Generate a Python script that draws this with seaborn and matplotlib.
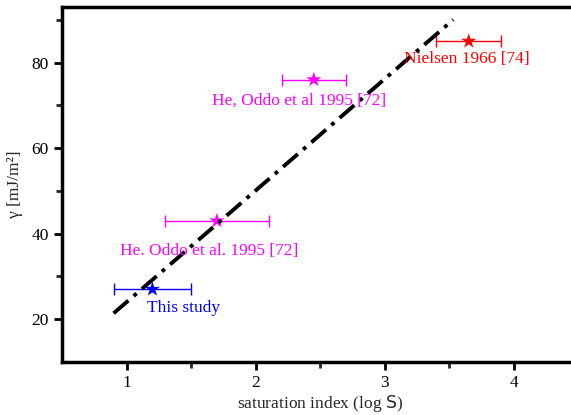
import matplotlib
matplotlib.use("Agg")
import matplotlib.pyplot as plt
import numpy as np
import pandas as pd
import seaborn as sns

# Measured interfacial energies vs. saturation index
labels = ["This study", "He. Oddo et al. 1995 [72]", "He, Oddo et al 1995 [72]", "Nielsen 1966 [74]"]
log_s = [1.2, 1.7, 2.45, 3.65]
gamma = [27, 43, 76, 85]
x_lo = [0.9, 1.3, 2.2, 3.4]
x_hi = [1.5, 2.1, 2.7, 3.9]
colors = ["#0000ff", "#ff00ff", "#ff00ff", "#ff0000"]

# Linear trend line endpoints (log S) and its coefficients
fit_x = [0.9, 3.53]
fit_slope = 26.1
fit_intercept = -2.1

x_ticks = [1, 2, 3, 4]
y_ticks = [20, 40, 60, 80]

sns.set_style("ticks")
plt.rcParams["font.family"] = ["Liberation Serif", "DejaVu Serif"]
plt.rcParams["mathtext.fontset"] = "dejavusans"

FS = 12.5

fig = plt.figure(figsize=(5.71, 4.15), dpi=100)
ax = fig.add_axes([62 / 571, 1 - 362 / 415, (578.5 - 62) / 571, (362 - 7) / 415])

df = pd.DataFrame({"log_s": log_s, "gamma": gamma, "label": labels})

for i in range(len(labels)):
    xerr = [[log_s[i] - x_lo[i]], [x_hi[i] - log_s[i]]]
    ax.errorbar(log_s[i], gamma[i], xerr=xerr, fmt="none", ecolor=colors[i],
                elinewidth=1.0, capsize=4, capthick=1.0, zorder=2)

sns.scatterplot(data=df, x="log_s", y="gamma", hue="label", palette=colors,
                marker="*", s=130, linewidth=0, legend=False, ax=ax, zorder=3)

line_df = pd.DataFrame({"x": fit_x, "y": [fit_slope * v + fit_intercept for v in fit_x]})
sns.lineplot(data=line_df, x="x", y="y", color="black", linewidth=2.8,
             linestyle=(0, (5, 1.8, 1, 1.8)), ax=ax, zorder=4)

# Annotations
text_pos = [(1.155, 22.6), (0.953, 36.0), (1.66, 71.1), (3.15, 80.9)]
for i, (tx, ty) in enumerate(text_pos):
    ax.text(tx, ty, labels[i], color=colors[i], fontsize=FS, va="center", ha="left", zorder=5)

ax.set_xlim(0.5, 4.5)
ax.set_ylim(10, 93)
ax.set_xticks(x_ticks)
ax.set_yticks(y_ticks)
ax.set_xticks([1.5, 2.5, 3.5], minor=True)
ax.set_yticks([30, 50, 70, 90], minor=True)
ax.tick_params(which="major", direction="out", length=6, width=2, labelsize=FS, colors="black")
ax.tick_params(which="minor", direction="out", length=4, width=2)
for sp in ax.spines.values():
    sp.set_linewidth(2.5)
    sp.set_color("black")

ax.set_xlabel(r"saturation index (log $\mathsf{S}$)", fontsize=FS, labelpad=1)
ax.set_ylabel("γ [mJ/m²]", fontsize=FS, labelpad=6)

fig.savefig("out.png", dpi=100)
